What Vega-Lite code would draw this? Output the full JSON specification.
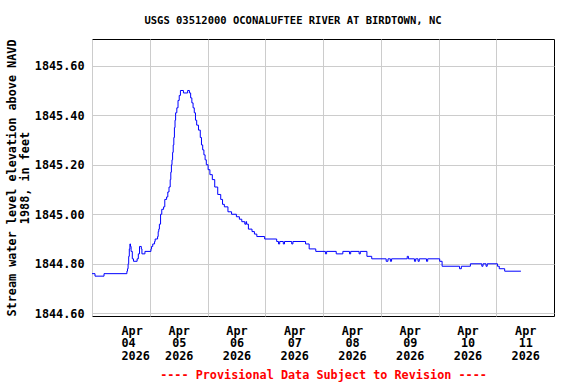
{
  "$schema": "https://vega.github.io/schema/vega-lite/v6.json",
  "width": 462,
  "height": 277,
  "autosize": {"type": "none"},
  "padding": {"left": 92, "top": 39, "right": 22, "bottom": 68},
  "background": "white",
  "title": {
    "text": "USGS 03512000 OCONALUFTEE RIVER AT BIRDTOWN, NC",
    "font": "DejaVu Sans Mono", "fontSize": 10.5, "fontWeight": "bold", "color": "black",
    "anchor": "middle", "dx": -30, "offset": 13
  },
  "config": {
    "view": {"stroke": "black", "strokeWidth": 1},
    "axis": {
      "labelFont": "DejaVu Sans Mono", "labelFontSize": 11.8, "labelFontWeight": "bold", "labelColor": "black",
      "titleFont": "DejaVu Sans Mono", "titleFontSize": 11.8, "titleFontWeight": "bold", "titleColor": "black",
      "gridColor": "#cccccc", "gridWidth": 1, "gridOpacity": 1, "ticks": false, "domain": false, "labelOverlap": false
    }
  },
  "data": {"values": [
    {"time": "2026-04-04T00:00", "level": 1844.76},
    {"time": "2026-04-04T01:15", "level": 1844.75},
    {"time": "2026-04-04T05:00", "level": 1844.76},
    {"time": "2026-04-04T14:30", "level": 1844.77},
    {"time": "2026-04-04T14:45", "level": 1844.78},
    {"time": "2026-04-04T15:00", "level": 1844.80},
    {"time": "2026-04-04T15:15", "level": 1844.83},
    {"time": "2026-04-04T15:30", "level": 1844.86},
    {"time": "2026-04-04T15:45", "level": 1844.88},
    {"time": "2026-04-04T16:00", "level": 1844.87},
    {"time": "2026-04-04T16:15", "level": 1844.85},
    {"time": "2026-04-04T16:45", "level": 1844.82},
    {"time": "2026-04-04T17:15", "level": 1844.81},
    {"time": "2026-04-04T18:45", "level": 1844.82},
    {"time": "2026-04-04T19:15", "level": 1844.84},
    {"time": "2026-04-04T19:45", "level": 1844.87},
    {"time": "2026-04-04T20:30", "level": 1844.86},
    {"time": "2026-04-04T20:45", "level": 1844.84},
    {"time": "2026-04-04T22:00", "level": 1844.85},
    {"time": "2026-04-05T00:30", "level": 1844.86},
    {"time": "2026-04-05T00:45", "level": 1844.87},
    {"time": "2026-04-05T01:15", "level": 1844.88},
    {"time": "2026-04-05T02:00", "level": 1844.89},
    {"time": "2026-04-05T02:15", "level": 1844.90},
    {"time": "2026-04-05T03:15", "level": 1844.91},
    {"time": "2026-04-05T03:30", "level": 1844.93},
    {"time": "2026-04-05T03:45", "level": 1844.94},
    {"time": "2026-04-05T04:00", "level": 1844.96},
    {"time": "2026-04-05T04:30", "level": 1845.00},
    {"time": "2026-04-05T05:00", "level": 1845.02},
    {"time": "2026-04-05T05:45", "level": 1845.03},
    {"time": "2026-04-05T06:15", "level": 1845.06},
    {"time": "2026-04-05T07:00", "level": 1845.07},
    {"time": "2026-04-05T07:30", "level": 1845.09},
    {"time": "2026-04-05T08:00", "level": 1845.11},
    {"time": "2026-04-05T08:30", "level": 1845.14},
    {"time": "2026-04-05T08:45", "level": 1845.17},
    {"time": "2026-04-05T09:00", "level": 1845.20},
    {"time": "2026-04-05T09:15", "level": 1845.22},
    {"time": "2026-04-05T09:30", "level": 1845.25},
    {"time": "2026-04-05T09:45", "level": 1845.28},
    {"time": "2026-04-05T10:00", "level": 1845.31},
    {"time": "2026-04-05T10:15", "level": 1845.35},
    {"time": "2026-04-05T10:30", "level": 1845.38},
    {"time": "2026-04-05T10:45", "level": 1845.41},
    {"time": "2026-04-05T11:15", "level": 1845.43},
    {"time": "2026-04-05T11:45", "level": 1845.46},
    {"time": "2026-04-05T12:15", "level": 1845.48},
    {"time": "2026-04-05T12:45", "level": 1845.50},
    {"time": "2026-04-05T14:00", "level": 1845.49},
    {"time": "2026-04-05T15:45", "level": 1845.50},
    {"time": "2026-04-05T16:30", "level": 1845.49},
    {"time": "2026-04-05T17:00", "level": 1845.47},
    {"time": "2026-04-05T17:30", "level": 1845.45},
    {"time": "2026-04-05T18:00", "level": 1845.43},
    {"time": "2026-04-05T18:30", "level": 1845.41},
    {"time": "2026-04-05T19:00", "level": 1845.38},
    {"time": "2026-04-05T19:30", "level": 1845.36},
    {"time": "2026-04-05T20:15", "level": 1845.34},
    {"time": "2026-04-05T21:00", "level": 1845.31},
    {"time": "2026-04-05T21:30", "level": 1845.28},
    {"time": "2026-04-05T22:00", "level": 1845.26},
    {"time": "2026-04-05T22:30", "level": 1845.24},
    {"time": "2026-04-05T23:00", "level": 1845.22},
    {"time": "2026-04-05T23:30", "level": 1845.20},
    {"time": "2026-04-06T00:15", "level": 1845.18},
    {"time": "2026-04-06T01:00", "level": 1845.16},
    {"time": "2026-04-06T02:00", "level": 1845.14},
    {"time": "2026-04-06T03:00", "level": 1845.11},
    {"time": "2026-04-06T04:15", "level": 1845.08},
    {"time": "2026-04-06T05:30", "level": 1845.06},
    {"time": "2026-04-06T06:15", "level": 1845.04},
    {"time": "2026-04-06T07:00", "level": 1845.03},
    {"time": "2026-04-06T08:30", "level": 1845.01},
    {"time": "2026-04-06T10:00", "level": 1845.00},
    {"time": "2026-04-06T12:00", "level": 1844.99},
    {"time": "2026-04-06T13:15", "level": 1844.98},
    {"time": "2026-04-06T14:15", "level": 1844.97},
    {"time": "2026-04-06T15:30", "level": 1844.96},
    {"time": "2026-04-06T16:00", "level": 1844.97},
    {"time": "2026-04-06T16:15", "level": 1844.96},
    {"time": "2026-04-06T17:00", "level": 1844.94},
    {"time": "2026-04-06T18:30", "level": 1844.93},
    {"time": "2026-04-06T19:30", "level": 1844.92},
    {"time": "2026-04-06T20:30", "level": 1844.91},
    {"time": "2026-04-06T23:45", "level": 1844.90},
    {"time": "2026-04-07T04:45", "level": 1844.89},
    {"time": "2026-04-07T05:30", "level": 1844.88},
    {"time": "2026-04-07T06:00", "level": 1844.89},
    {"time": "2026-04-07T07:30", "level": 1844.88},
    {"time": "2026-04-07T08:00", "level": 1844.89},
    {"time": "2026-04-07T11:00", "level": 1844.88},
    {"time": "2026-04-07T11:30", "level": 1844.89},
    {"time": "2026-04-07T16:45", "level": 1844.88},
    {"time": "2026-04-07T18:15", "level": 1844.86},
    {"time": "2026-04-07T21:00", "level": 1844.85},
    {"time": "2026-04-08T01:00", "level": 1844.84},
    {"time": "2026-04-08T01:30", "level": 1844.85},
    {"time": "2026-04-08T05:30", "level": 1844.84},
    {"time": "2026-04-08T08:15", "level": 1844.85},
    {"time": "2026-04-08T11:00", "level": 1844.84},
    {"time": "2026-04-08T11:30", "level": 1844.85},
    {"time": "2026-04-08T15:00", "level": 1844.84},
    {"time": "2026-04-08T15:30", "level": 1844.85},
    {"time": "2026-04-08T18:15", "level": 1844.83},
    {"time": "2026-04-08T20:15", "level": 1844.82},
    {"time": "2026-04-09T02:15", "level": 1844.81},
    {"time": "2026-04-09T03:00", "level": 1844.82},
    {"time": "2026-04-09T04:00", "level": 1844.81},
    {"time": "2026-04-09T04:30", "level": 1844.82},
    {"time": "2026-04-09T11:00", "level": 1844.83},
    {"time": "2026-04-09T11:30", "level": 1844.82},
    {"time": "2026-04-09T14:00", "level": 1844.81},
    {"time": "2026-04-09T14:30", "level": 1844.82},
    {"time": "2026-04-09T15:30", "level": 1844.81},
    {"time": "2026-04-09T16:00", "level": 1844.82},
    {"time": "2026-04-09T19:00", "level": 1844.81},
    {"time": "2026-04-09T19:30", "level": 1844.82},
    {"time": "2026-04-10T00:30", "level": 1844.81},
    {"time": "2026-04-10T01:30", "level": 1844.79},
    {"time": "2026-04-10T08:45", "level": 1844.78},
    {"time": "2026-04-10T09:30", "level": 1844.79},
    {"time": "2026-04-10T13:15", "level": 1844.80},
    {"time": "2026-04-10T18:00", "level": 1844.79},
    {"time": "2026-04-10T18:30", "level": 1844.80},
    {"time": "2026-04-10T19:45", "level": 1844.79},
    {"time": "2026-04-10T20:15", "level": 1844.80},
    {"time": "2026-04-11T00:30", "level": 1844.79},
    {"time": "2026-04-11T01:15", "level": 1844.78},
    {"time": "2026-04-11T03:30", "level": 1844.77},
    {"time": "2026-04-11T10:15", "level": 1844.77}
  ]},
  "mark": {"type": "line", "color": "#0000FF", "strokeWidth": 1, "interpolate": "step-after"},
  "encoding": {
    "x": {
      "field": "time", "type": "temporal",
      "scale": {"domain": [{"year": 2026, "month": 4, "date": 4, "hours": 0}, {"year": 2026, "month": 4, "date": 12, "hours": 0}], "nice": false},
      "axis": {
        "values": [
          {"year": 2026, "month": 4, "date": 4}, {"year": 2026, "month": 4, "date": 5},
          {"year": 2026, "month": 4, "date": 6}, {"year": 2026, "month": 4, "date": 7},
          {"year": 2026, "month": 4, "date": 8}, {"year": 2026, "month": 4, "date": 9},
          {"year": 2026, "month": 4, "date": 10}, {"year": 2026, "month": 4, "date": 11}
        ],
        "labelExpr": "[timeFormat(datum.value, '%b'), timeFormat(datum.value, '%d'), timeFormat(datum.value, '%Y')]",
        "labelOffset": 29, "labelPadding": 9, "labelLineHeight": 12.7, "labelBaseline": "top",
        "grid": true,
        "title": "---- Provisional Data Subject to Revision ----",
        "titleColor": "#FF0000", "titlePadding": 7
      }
    },
    "y": {
      "field": "level", "type": "quantitative",
      "scale": {"domain": [1844.589, 1845.708], "nice": false, "zero": false},
      "axis": {
        "values": [1844.6, 1844.8, 1845.0, 1845.2, 1845.4, 1845.6],
        "format": ".2f", "labelPadding": 8, "grid": true,
        "title": ["Stream water level elevation above NAVD", "1988, in feet"],
        "titlePadding": 4, "titleLineHeight": 13
      }
    }
  }
}
